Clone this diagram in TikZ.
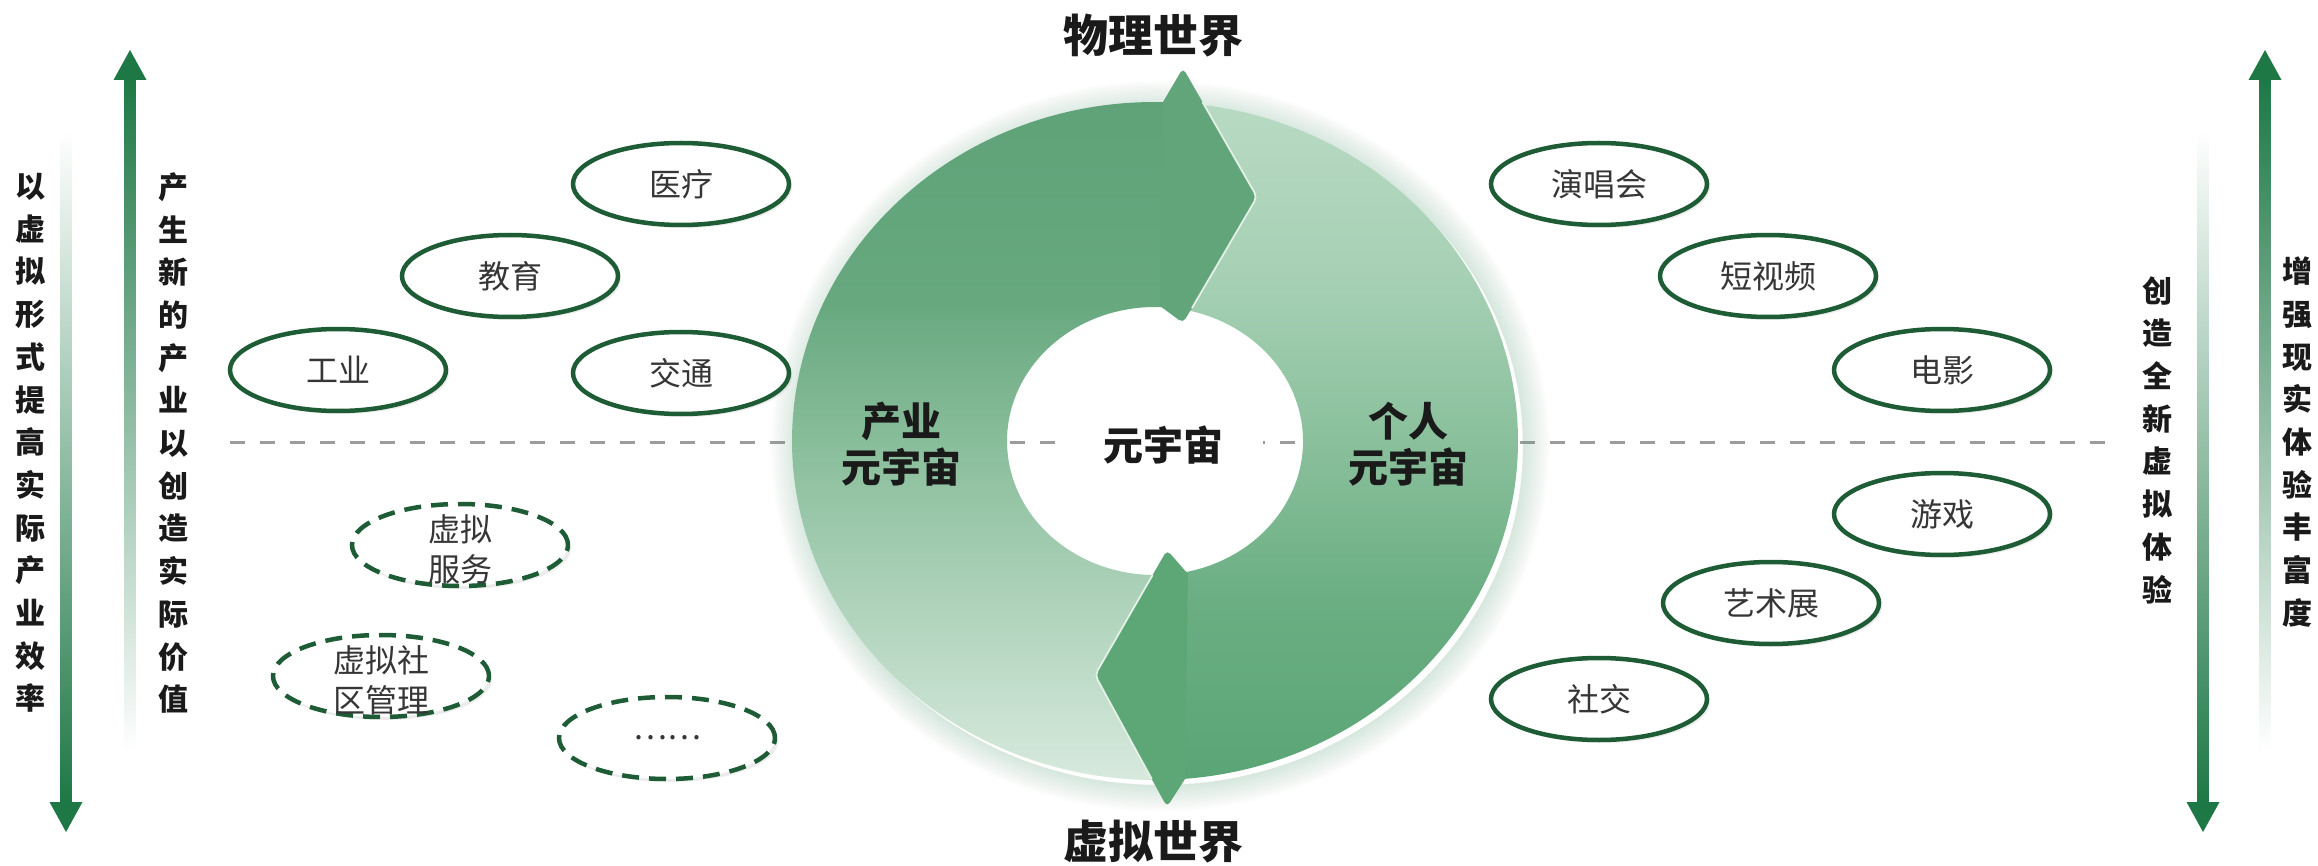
\documentclass[tikz,border=0pt]{standalone}
\usepackage{fontspec}
\newfontfamily\cjk{Noto Sans CJK SC}
\usetikzlibrary{shapes.geometric,shadows,calc}
\definecolor{arrowgreen}{HTML}{1E7846}
\definecolor{ovalgreen}{HTML}{1D5C35}
\definecolor{ringtop}{HTML}{5FA278}
\definecolor{LBa}{HTML}{D8EADE}
\definecolor{LBb}{HTML}{88BD9A}
\definecolor{LBc}{HTML}{67A87F}
\definecolor{RBa}{HTML}{5AA575}
\definecolor{RBb}{HTML}{6AAE82}
\definecolor{RBc}{HTML}{8AC09C}
\definecolor{RBd}{HTML}{A6D0B4}
\definecolor{RBe}{HTML}{B8DAC3}
\definecolor{headtop}{HTML}{62A57B}
\definecolor{headbot}{HTML}{5DA776}
\definecolor{dashgray}{HTML}{9C9C9C}
\definecolor{txtgray}{HTML}{363636}
\definecolor{txtdark}{HTML}{1A1A1A}
\pgfdeclareverticalshading{leftband}{100bp}{color(0bp)=(LBa); color(25bp)=(LBa); color(50bp)=(LBb); color(60bp)=(LBc); color(75bp)=(ringtop); color(100bp)=(ringtop)}
\pgfdeclareverticalshading{rightband}{100bp}{color(0bp)=(RBa); color(25bp)=(RBa); color(38bp)=(RBb); color(50bp)=(RBc); color(62bp)=(RBd); color(75bp)=(RBe); color(100bp)=(RBe)}
\begin{document}
\begin{tikzpicture}[x=1pt,y=-1pt,
  oval/.style={ellipse, draw=ovalgreen, line width=4.5pt, fill=white,
    minimum width=216pt, minimum height=82pt, inner sep=0pt,
    drop shadow={shadow xshift=3pt, shadow yshift=-3pt, opacity=0.15}},
  dashoval/.style={oval, dash pattern=on 17pt off 10pt},
  ovaltext/.style={align=center, inner sep=0pt, text=txtgray,
    font=\cjk\fontsize{32}{40}\selectfont},
  vtext/.style={align=center, inner sep=0pt, text=txtdark,
    font=\cjk\bfseries\fontsize{30}{42.7}\selectfont},
  ringtext/.style={align=center, inner sep=0pt, text=txtdark,
    font=\cjk\bfseries\fontsize{40}{46}\selectfont},
  worldtext/.style={inner sep=0pt, text=txtdark,
    font=\cjk\bfseries\fontsize{45}{50}\selectfont},
  barup/.style={top color=arrowgreen, middle color=arrowgreen!60!white, bottom color=white},
  bardown/.style={top color=white, middle color=arrowgreen!60!white, bottom color=arrowgreen},
  tipfill/.style={fill=arrowgreen},
  sepline/.style={draw=dashgray, line width=3pt, dash pattern=on 15pt off 15pt},
  headline/.style={draw=white!60!RBe, line width=1.8pt, rounded corners=5pt},
]
\useasboundingbox (0,0) rectangle (2318,866);
\fill[white] (0,0) rectangle (2318,866);

% dashed separator
\coordinate (dl) at (230,442);
\coordinate (dr) at (2116,442);
\draw[sepline] (dl) -- (dr);

% ring
\coordinate (C) at (1155,441);
\coordinate (H) at (1160,446);
\foreach \k [evaluate=\k as \rx using 363+2.6*\k, evaluate=\k as \ry using 339+2.6*\k] in {1,...,10}
  \fill[ringtop, opacity=0.022, even odd rule] (H) ellipse[x radius=\rx, y radius=\ry] (H) ellipse[x radius=363, y radius=339];

% left band (dark at top, light at bottom)
\shade[shading=leftband]
  ($(C)+(-87.32:363 and 339)$) arc[start angle=-87.32, end angle=-273.633, x radius=363, y radius=339]
  -- ($(C)+(81.059:148 and 134)$) arc[start angle=-278.941, end angle=-83.40, x radius=148, y radius=134]
  -- cycle;
% right band (light at top, dark at bottom)
\shade[shading=rightband]
  ($(C)+(-87.32:363 and 339)$) arc[start angle=-87.32, end angle=86.367, x radius=363, y radius=339]
  -- ($(C)+(81.059:148 and 134)$) arc[start angle=81.059, end angle=-83.40, x radius=148, y radius=134]
  -- cycle;

% top arrow head (pointing right)
\coordinate (ta1) at (1163,102);
\coordinate (ta2) at (1183,68);
\coordinate (ta3) at (1257,197);
\coordinate (ta4) at (1183,323);
\coordinate (ta5) at (1160,306);
\fill[headtop] (ta1) [rounded corners=5pt] -- (ta2) -- (ta3) -- (ta4) [sharp corners] -- (ta5) -- cycle;
\draw[headline] (1202.5,102) -- (ta3) -- (1192,308);

% bottom arrow head (pointing left)
\coordinate (ba1) at (1188,574);
\coordinate (ba2) at (1167,550);
\coordinate (ba3) at (1095,675);
\coordinate (ba4) at (1167,807);
\coordinate (ba5) at (1185,779);
\fill[headbot] (ba1) [rounded corners=5pt] -- (ba2) -- (ba3) -- (ba4) [sharp corners] -- (ba5) -- cycle;
\draw[headline] (1152.6,575) -- (ba3) -- (1151.7,779);

% ring texts
\node[ringtext] (ind) at (901,444) {产业\\元宇宙};
\node[ringtext] (per) at (1408,444) {个人\\元宇宙};
\node[ringtext, fill=white, inner xsep=40pt, inner ysep=4pt] (meta) at (1163,445) {元宇宙};
\node[worldtext] (phys) at (1153,36) {物理世界};
\node[worldtext] (virt) at (1153,842) {虚拟世界};

% left ovals
\node[oval] (o1) at (681,184) {};
\node[ovaltext] (t1) at (o1) {医疗};
\node[oval] (o2) at (510,276) {};
\node[ovaltext] (t2) at (o2) {教育};
\node[oval] (o3) at (338,370) {};
\node[ovaltext] (t3) at (o3) {工业};
\node[oval] (o4) at (681,373) {};
\node[ovaltext] (t4) at (o4) {交通};
\node[dashoval] (o5) at (460,545) {};
\node[ovaltext] (t5) at ($(o5)+(0,4)$) {虚拟\\服务};
\node[dashoval] (o6) at (381,676) {};
\node[ovaltext] (t6) at ($(o6)+(0,4)$) {虚拟社\\区管理};
\node[dashoval] (o7) at (667,738) {};
\node[ovaltext] (t7) at (o7) {……};

% right ovals
\node[oval] (r1) at (1599,184) {};
\node[ovaltext] (s1) at (r1) {演唱会};
\node[oval] (r2) at (1768,276) {};
\node[ovaltext] (s2) at (r2) {短视频};
\node[oval] (r3) at (1942,370) {};
\node[ovaltext] (s3) at (r3) {电影};
\node[oval] (r4) at (1942,514) {};
\node[ovaltext] (s4) at (r4) {游戏};
\node[oval] (r5) at (1771,603) {};
\node[ovaltext] (s5) at (r5) {艺术展};
\node[oval] (r6) at (1599,699) {};
\node[ovaltext] (s6) at (r6) {社交};

% left vertical arrows
\coordinate (lu1) at (130,50);
\fill[tipfill] (lu1) -- (146.5,80) -- (113.5,80) -- cycle;
\shade[barup] (124.5,79) rectangle (135.5,752);
\coordinate (ld1) at (66,832);
\fill[tipfill] (ld1) -- (82.5,802) -- (49.5,802) -- cycle;
\shade[bardown] (60.5,130) rectangle (71.5,803);

% right vertical arrows
\coordinate (ru1) at (2265,50);
\fill[tipfill] (ru1) -- (2281.5,80) -- (2248.5,80) -- cycle;
\shade[barup] (2259.5,79) rectangle (2270.5,752);
\coordinate (rd1) at (2203,832);
\fill[tipfill] (rd1) -- (2219.5,802) -- (2186.5,802) -- cycle;
\shade[bardown] (2197.5,130) rectangle (2208.5,803);

% vertical texts
\node[vtext] (v1) at (31,443) {以\\虚\\拟\\形\\式\\提\\高\\实\\际\\产\\业\\效\\率};
\node[vtext] (v2) at (173,443) {产\\生\\新\\的\\产\\业\\以\\创\\造\\实\\际\\价\\值};
\node[vtext] (v3) at (2157,440) {创\\造\\全\\新\\虚\\拟\\体\\验};
\node[vtext] (v4) at (2297,442) {增\\强\\现\\实\\体\\验\\丰\\富\\度};
\end{tikzpicture}
\end{document}
